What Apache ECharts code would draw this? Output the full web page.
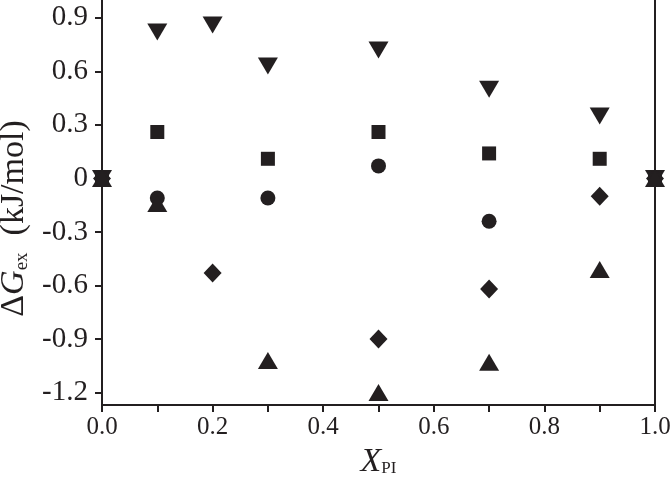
<!DOCTYPE html>
<html><head><meta charset="utf-8">
<script src="https://cdn.jsdelivr.net/npm/echarts@6/dist/echarts.min.js"></script>
<style>html,body{margin:0;padding:0;background:#fff}#c{width:670px;height:489px}</style>
</head><body><div id="c"></div>
<script>
const xValues = [0, 0.1, 0.2, 0.3, 0.5, 0.7, 0.9, 1.0];
const triDown = [[0,0],[0.1,0.82],[0.2,0.86],[0.3,0.63],[0.5,0.72],[0.7,0.50],[0.9,0.35],[1,0]];
const squares = [[0,0],[0.1,0.26],[0.3,0.11],[0.5,0.26],[0.7,0.14],[0.9,0.11],[1,0]];
const circles = [[0,0],[0.1,-0.11],[0.3,-0.11],[0.5,0.07],[0.7,-0.24],[1,0]];
const diamonds = [[0,0],[0.2,-0.53],[0.5,-0.90],[0.7,-0.62],[0.9,-0.10],[1,0]];
const triUp = [[0,0],[0.1,-0.14],[0.3,-1.02],[0.5,-1.20],[0.7,-1.03],[0.9,-0.51],[1,0]];
const yTicks = [-1.2,-0.9,-0.6,-0.3,0,0.3,0.6,0.9];

const ink = '#231f20';
const font = "'Liberation Serif', 'Times New Roman', serif";
const chart = echarts.init(document.getElementById('c'));
const down = 'path://M0,0 L20,0 L10,17 Z';
const up = 'path://M10,0 L20,17 L0,17 Z';
function sc(data, symbol, size){
  return {type:'scatter', data, symbol, symbolSize:size, itemStyle:{color:ink, opacity:1}, animation:false};
}
chart.setOption({
  animation:false,
  grid:{left:102, right:15, top:0, bottom:84, outerBoundsMode:'none', containLabel:false},
  xAxis:{type:'value', min:0, max:1, interval:0.2,
    name:'{x|X}{s|PI}', nameLocation:'middle', nameGap:40,
    nameTextStyle:{rich:{x:{fontFamily:font,fontStyle:'italic',fontSize:34,color:ink},
      s:{fontFamily:font,fontSize:17,color:ink,padding:[14,0,0,0]}}},
    axisLine:{onZero:false,lineStyle:{color:ink,width:2}},
    axisTick:{inside:false,length:7,lineStyle:{color:ink,width:2}},
    minorTick:{show:true,splitNumber:2,length:7,lineStyle:{color:ink,width:2}},
    axisLabel:{fontFamily:font,fontSize:25,color:ink,margin:10,formatter:v=>v.toFixed(1)},
    splitLine:{show:false}},
  yAxis:[{type:'value', min:-1.27, max:1.0, 
    name:'{d|Δ}{g|G}{s|ex}{d|  (kJ/mol)}', nameLocation:'middle', nameGap:56, nameRotate:90,
    nameTextStyle:{padding:[0,32,0,0],rich:{d:{fontFamily:font,fontSize:34,color:ink},g:{fontFamily:font,fontStyle:'italic',fontSize:34,color:ink},
      s:{fontFamily:font,fontSize:19,color:ink,padding:[15,0,0,0]}}},
    axisLine:{onZero:false,lineStyle:{color:ink,width:2}},
    axisTick:{length:7,lineStyle:{color:ink,width:2},customValues:yTicks},
    axisLabel:{fontFamily:font,fontSize:29,color:ink,margin:14,customValues:yTicks,
      formatter:v=>Math.abs(v)<1e-9?'0':v.toFixed(1)},
    splitLine:{show:false}},
   {type:'value', min:-1.27, max:1.0, position:'right', axisLine:{show:true,onZero:false,lineStyle:{color:ink,width:2}},
    axisTick:{show:false}, axisLabel:{show:false}, splitLine:{show:false}}],
  series:[
    sc(triDown, down, [20,17]),
    sc(squares, 'rect', 14),
    sc(circles, 'circle', 15),
    sc(diamonds, 'diamond', [18,19]),
    sc(triUp, up, [20,17])
  ]
});
</script></body></html>
